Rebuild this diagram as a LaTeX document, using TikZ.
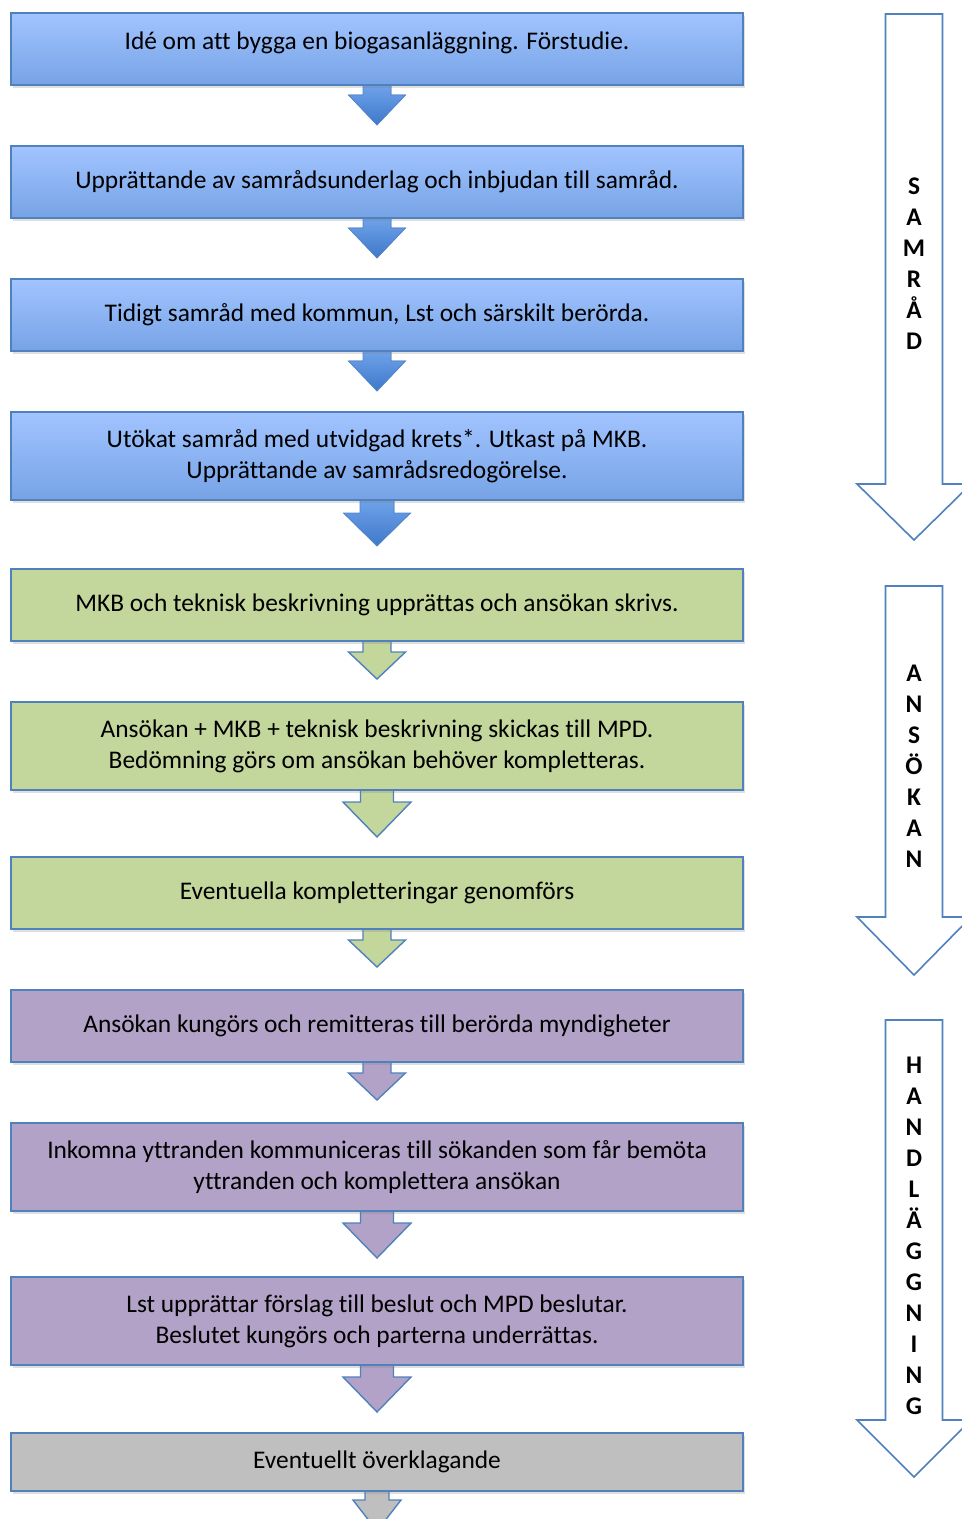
\documentclass[tikz,border=0pt]{standalone}
\usepackage{fontspec}
\setmainfont{Carlito}[Ligatures=NoCommon]
\usepackage{tikz}
\usetikzlibrary{positioning,calc,shadows,backgrounds}
\definecolor{edge}{HTML}{4F81BD}
\definecolor{skytop}{HTML}{A2C4FF}
\definecolor{skybot}{HTML}{76A3E6}
\definecolor{arrtop}{HTML}{6FA2EA}
\definecolor{arrbot}{HTML}{3E79C9}
\definecolor{olive}{HTML}{C3D69B}
\definecolor{lilac}{HTML}{B2A2C7}
\definecolor{stone}{HTML}{BFBFBF}

\begin{document}
\begin{tikzpicture}[x=0.5pt,y=-0.5pt,node distance=30.5pt]
  \tikzstyle{box}=[draw=edge,line width=0.7pt,outer sep=0pt,minimum width=366pt,minimum height=36pt,align=center,
    font=\fontsize{12.7}{15.5}\selectfont,drop shadow={shadow xshift=0.8pt,shadow yshift=-1.6pt,opacity=0.25}]
  \tikzstyle{bluebox}=[box,top color=skytop,bottom color=skybot]
  \tikzstyle{greenbox}=[box,fill=olive]
  \tikzstyle{purplebox}=[box,fill=lilac]
  \tikzstyle{greybox}=[box,fill=stone,minimum height=29pt]
  \tikzstyle{tall}=[minimum height=44pt]
  \tikzstyle{bluearrow}=[draw=arrbot!90,line width=0.4pt,top color=arrtop,bottom color=arrbot]
  \tikzstyle{greenarrow}=[draw=edge,line width=0.7pt,fill=olive]
  \tikzstyle{purplearrow}=[draw=edge,line width=0.7pt,fill=lilac]
  \tikzstyle{greyarrow}=[draw=edge,line width=0.7pt,fill=stone]
  \tikzstyle{sidearrow}=[draw=edge,line width=0.8pt,fill=white]
  \tikzstyle{letters}=[align=center,font=\fontsize{12.7}{15.5}\selectfont\bfseries]
  \useasboundingbox (0,0) rectangle (962,1519);
  % steps
  \node[bluebox] (b1) at (377,49) {\raisebox{8pt}{Idé om att bygga en biogasanläggning. Förstudie.}};
  \node[bluebox,below=of b1] (b2) {Upprättande av samrådsunderlag och inbjudan till samråd.};
  \node[bluebox,below=of b2] (b3) {Tidigt samråd med kommun, Lst och särskilt berörda.};
  \node[bluebox,tall,below=of b3] (b4) {Utökat samråd med utvidgad krets*. Utkast på MKB.\\Upprättande av samrådsredogörelse.};
  \node[greenbox,below=34.5pt of b4] (b5) {MKB och teknisk beskrivning upprättas och ansökan skrivs.};
  \node[greenbox,tall,below=of b5] (b6) {Ansökan + MKB + teknisk beskrivning skickas till MPD.\\Bedömning görs om ansökan behöver kompletteras.};
  \node[greenbox,below=33.5pt of b6] (b7) {Eventuella kompletteringar genomförs};
  \node[purplebox,below=of b7] (b8) {Ansökan kungörs och remitteras till berörda myndigheter};
  \node[purplebox,tall,below=of b8] (b9) {Inkomna yttranden kommuniceras till sökanden som får bemöta\\yttranden och komplettera ansökan};
  \node[purplebox,tall,below=33pt of b9] (b10) {Lst upprättar förslag till beslut och MPD beslutar.\\Beslutet kungörs och parterna underrättas.};
  \node[greybox,below=34pt of b10] (b11) {Eventuellt överklagande};
  % block arrows between the steps
  \begin{pgfonlayer}{background}
  \foreach \n/\c/\s/\h/\k/\l in {b1/bluearrow/14/28.5/10/40, b2/bluearrow/14/28.5/10/40,
      b3/bluearrow/14/28.5/10/40, b4/bluearrow/17/33.5/13/46, b5/greenarrow/14/28.5/11/38,
      b6/greenarrow/16.5/34/12/47, b7/greenarrow/14/28.5/11/38, b8/purplearrow/14/28.5/11/38,
      b9/purplearrow/16.5/34/12/47, b10/purplearrow/16.5/34/12/47, b11/greyarrow/12/24/9/40}
    \filldraw[\c] ($(\n.south)+(-\s,0)$) -- ($(\n.south)+(-\s,\k)$) -- ($(\n.south)+(-\h,\k)$)
      -- ($(\n.south)+(0,\l)$) -- ($(\n.south)+(\h,\k)$) -- ($(\n.south)+(\s,\k)$) -- ($(\n.south)+(\s,0)$);
  \end{pgfonlayer}
  % phases on the right
  \draw[sidearrow] (885.5,14) -- (942.5,14) -- (942.5,484) -- (971,484) -- (914,540) -- (857,484) -- (885.5,484) -- cycle;
  \node[letters] (samrad) at (914,263.5) {S\\A\\M\\R\\Å\\D};
  \draw[sidearrow] (885.5,586) -- (942.5,586) -- (942.5,917) -- (971,917) -- (914,975) -- (857,917) -- (885.5,917) -- cycle;
  \node[letters] (ansokan) at (914,766) {A\\N\\S\\Ö\\K\\A\\N};
  \draw[sidearrow] (885.5,1020) -- (942.5,1020) -- (942.5,1420) -- (971,1420) -- (914,1477) -- (857,1420) -- (885.5,1420) -- cycle;
  \node[letters] (handlaggning) at (914,1235.5) {H\\A\\N\\D\\L\\Ä\\G\\G\\N\\I\\N\\G};
\end{tikzpicture}
\end{document}
